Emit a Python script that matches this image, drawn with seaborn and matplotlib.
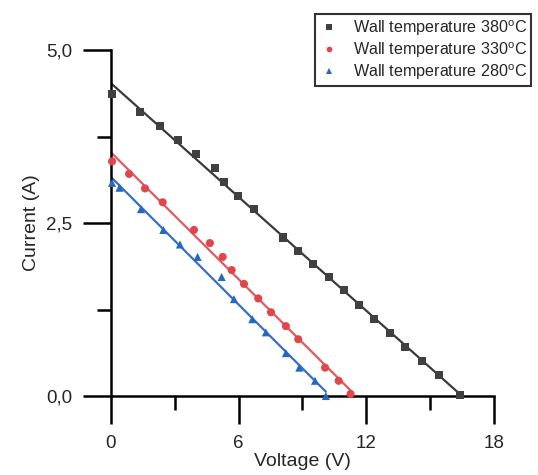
import pandas as pd
import matplotlib
matplotlib.use("Agg")
import matplotlib.pyplot as plt
import matplotlib.ticker as mticker
import seaborn as sns

# ================= DATOS =================
v_380 = [0.05, 1.35, 2.3, 3.15, 4.0, 4.9, 5.3, 5.95, 6.7, 8.1, 8.8, 9.5,
         10.25, 10.95, 11.65, 12.35, 13.1, 13.8, 14.6, 15.4, 16.4]
i_380 = [4.36, 4.10, 3.90, 3.70, 3.50, 3.30, 3.09, 2.89, 2.70, 2.29, 2.10, 1.91,
         1.72, 1.53, 1.32, 1.11, 0.91, 0.71, 0.51, 0.31, 0.02]

v_330 = [0.05, 0.85, 1.6, 2.43, 3.9, 4.65, 5.25, 5.67, 6.25, 6.92, 7.52, 8.22,
         8.8, 10.06, 10.7, 11.26]
i_330 = [3.39, 3.21, 3.00, 2.80, 2.40, 2.21, 2.01, 1.82, 1.62, 1.41, 1.21, 1.01,
         0.82, 0.41, 0.22, 0.03]

v_280 = [0.05, 0.4, 1.41, 2.46, 3.24, 4.07, 5.2, 5.78, 6.64, 7.28, 8.22, 8.85,
         9.59, 10.1]
i_280 = [3.08, 3.01, 2.70, 2.40, 2.19, 2.01, 1.72, 1.40, 1.11, 0.92, 0.62, 0.41,
         0.22, 0.0]

etiquetas = ['Wall temperature 380$^{\\rm o}$C',
             'Wall temperature 330$^{\\rm o}$C',
             'Wall temperature 280$^{\\rm o}$C']
colores = ['#404040', '#e0474c', '#2468c0']
colores_linea = ['#3a3a3a', '#e05a5e', '#3a6fc0']
marcadores = ['s', 'o', '^']

series = [(v_380, i_380), (v_330, i_330), (v_280, i_280)]
df = pd.concat([pd.DataFrame({'voltage': v, 'current': c, 'serie': lab})
                for (v, c), lab in zip(series, etiquetas)], ignore_index=True)

# ================= ESTILO =================
sns.set_style("ticks")
plt.rcParams['font.family'] = ['Liberation Sans', 'DejaVu Sans']
plt.rcParams['mathtext.fontset'] = 'custom'
plt.rcParams['mathtext.rm'] = 'Liberation Sans'

fig = plt.figure(figsize=(5.38, 4.75), dpi=100)
ax = fig.add_axes([0.2063, 0.1663, 0.7119, 0.7284])

# Rectas de ajuste
for (v, c), col in zip(series, colores_linea):
    sns.regplot(x=v, y=c, ax=ax, scatter=False, ci=None, truncate=True,
                line_kws={'color': col, 'linewidth': 1.6})

# Puntos
sns.scatterplot(data=df, x='voltage', y='current', hue='serie', style='serie',
                palette=colores, markers=marcadores, s=34, linewidth=0,
                ax=ax, clip_on=False, zorder=5)

ax.set_xlim(0, 18)
ax.set_ylim(0, 5)
ax.set_xticks([0, 6, 12, 18])
ax.set_yticks([0, 2.5, 5.0])
ax.xaxis.set_minor_locator(mticker.MultipleLocator(3))
ax.yaxis.set_minor_locator(mticker.MultipleLocator(1.25))
ax.yaxis.set_major_formatter(mticker.FuncFormatter(lambda v, p: f"{v:.1f}".replace('.', ',')))

for lado in ['top', 'right']:
    ax.spines[lado].set_visible(False)
for lado in ['left', 'bottom']:
    ax.spines[lado].set_linewidth(1.8)
    ax.spines[lado].set_color('black')

ax.tick_params(which='major', length=20, width=1.8, color='black', labelsize=13.5, pad=8)
ax.tick_params(which='minor', length=10, width=1.8, color='black')

ax.set_xlabel('Voltage (V)', fontsize=14, labelpad=1)
ax.set_ylabel('Current (A)', fontsize=14, labelpad=4)

handles, labels = ax.get_legend_handles_labels()
ax.legend(handles, labels, loc='upper left', bbox_to_anchor=(307 / 538, 1 - 6 / 475),
          bbox_transform=fig.transFigure, frameon=True, fancybox=False,
          edgecolor='black', fontsize=11.6, markerscale=0.7, handletextpad=0.9,
          borderpad=0.25, labelspacing=0.15, handlelength=1.2, title=None)
ax.get_legend().get_frame().set_linewidth(1.5)

plt.savefig('out.png', dpi=100)
